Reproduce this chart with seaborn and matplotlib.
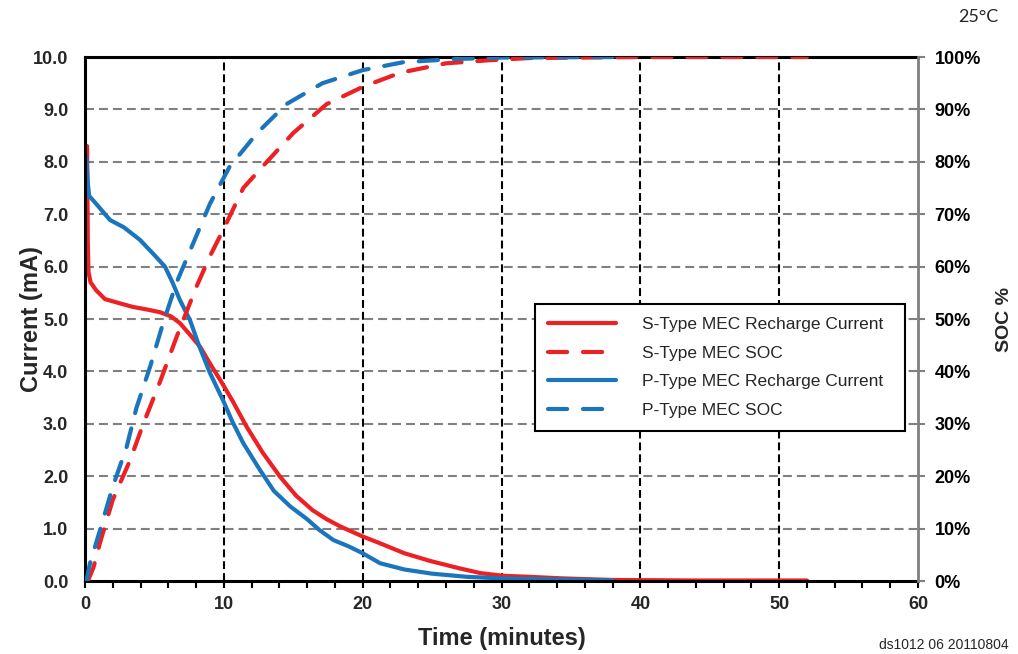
import matplotlib
matplotlib.use("Agg")
import matplotlib.pyplot as plt
from matplotlib.lines import Line2D
from matplotlib.ticker import MultipleLocator, FormatStrFormatter, FuncFormatter
import seaborn as sns

# S-Type MEC recharge current (minutes, mA)
s_cur_t = [0.15, 0.2, 0.25, 0.4, 0.8, 1.44, 2.5, 3.46, 4.5, 5.4, 6.2, 6.84, 7.5, 8.29, 9.0,
           9.73, 10.6, 11.65, 12.8, 14.05, 15.2, 16.4, 17.4, 18.4, 20.0, 21.25, 23.0, 24.9,
           27.0, 28.5, 30.1, 32.0, 34.4, 38.0, 44.0, 52.0]
s_cur = [8.3, 6.5, 5.9, 5.7, 5.55, 5.38, 5.3, 5.23, 5.18, 5.13, 5.05, 4.92, 4.72, 4.47, 4.15,
         3.84, 3.45, 2.94, 2.45, 1.99, 1.63, 1.35, 1.18, 1.04, 0.85, 0.72, 0.53, 0.38,
         0.24, 0.15, 0.10, 0.08, 0.05, 0.02, 0.01, 0.01]

# P-Type MEC recharge current (minutes, mA)
p_cur_t = [0.1, 0.2, 0.3, 0.8, 1.8, 2.8, 3.96, 5.0, 5.76, 6.3, 6.84, 7.56, 8.2, 9.0, 9.94,
           10.6, 11.4, 12.6, 13.6, 14.8, 16.0, 16.9, 17.9, 19.0, 20.0, 21.25, 23.0, 25.0,
           27.5, 30.0, 34.0, 38.0]
p_cur = [8.1, 7.6, 7.35, 7.2, 6.89, 6.75, 6.51, 6.22, 6.0, 5.7, 5.36, 4.98, 4.5, 3.97, 3.45,
         3.05, 2.63, 2.12, 1.72, 1.42, 1.18, 0.97, 0.78, 0.66, 0.53, 0.34, 0.22, 0.14,
         0.08, 0.05, 0.03, 0.01]

# S-Type MEC SOC (minutes, %)
s_soc_t = [0.2, 0.6, 1.08, 2.0, 3.24, 4.2, 5.4, 6.6, 8.0, 9.0, 9.95, 11.4, 13.1, 15.0, 17.4,
           20.0, 22.7, 26.0, 29.2, 32.0, 40.0, 52.0]
s_soc = [0, 2.5, 7.3, 15.5, 23, 30, 38, 46.6, 56, 62, 67, 75, 80, 85.5, 91,
         94.3, 97, 98.8, 99.4, 99.8, 100, 100]

# P-Type MEC SOC (minutes, %)
p_soc_t = [0.1, 0.36, 1.08, 2.0, 3.0, 3.7, 4.7, 5.6, 6.6, 7.56, 9.0, 10.0, 10.4, 12.4, 14.5,
           17.1, 20.0, 22.9, 26.5, 30.0, 38.0]
p_soc = [0, 3.4, 9.7, 18, 25.6, 33, 41, 49, 57, 63, 72, 77, 79, 85.5, 91,
         95, 97.5, 99, 99.6, 99.9, 100]

labels = ['S-Type MEC Recharge Current', 'S-Type MEC SOC',
          'P-Type MEC Recharge Current', 'P-Type MEC SOC']

RED = '#ED2024'
BLUE = '#1B75BC'
DASH = (0, (4.6, 3.8))

sns.set_style("white")
plt.rcParams['font.family'] = ['Liberation Sans', 'DejaVu Sans']
plt.rcParams['font.weight'] = 'bold'

fig = plt.figure(figsize=(10.18, 6.54), dpi=100)
ax = fig.add_axes([0.0835, 0.1116, 0.8183, 0.8012])
ax2 = ax.twinx()

# grid
for y in range(1, 10):
    ax.axhline(y, color='#808080', lw=1.5, ls=(0, (4.3, 2.4)), zorder=0.5)
for x in range(10, 60, 10):
    ax.axvline(x, color='black', lw=1.5, ls=(0, (3.8, 1.9)), zorder=0.6)

# current curves
sns.lineplot(x=s_cur_t, y=s_cur, ax=ax, color=RED, lw=3, estimator=None, sort=False,
             solid_capstyle='round')
sns.lineplot(x=p_cur_t, y=p_cur, ax=ax, color=BLUE, lw=3, estimator=None, sort=False,
             solid_capstyle='round')

# SOC curves
sns.lineplot(x=s_soc_t, y=s_soc, ax=ax2, color=RED, lw=3, estimator=None, sort=False,
             linestyle=DASH, dash_capstyle='round')
sns.lineplot(x=p_soc_t, y=p_soc, ax=ax2, color=BLUE, lw=3, estimator=None, sort=False,
             linestyle=DASH, dash_capstyle='round')

ax.set_xlim(0, 60)
ax.set_ylim(0, 10)
ax2.set_ylim(0, 100)

ax.xaxis.set_major_locator(MultipleLocator(10))
ax.xaxis.set_minor_locator(MultipleLocator(2))
ax.yaxis.set_major_locator(MultipleLocator(1))
ax.yaxis.set_major_formatter(FormatStrFormatter('%.1f'))
ax2.yaxis.set_major_locator(MultipleLocator(10))
ax2.yaxis.set_major_formatter(FuncFormatter(lambda v, p: f'{int(round(v))}%'))

ax.tick_params(axis='x', which='both', direction='out', length=5, width=1.5,
               color='black', labelsize=13, pad=6, bottom=True)
ax.tick_params(axis='y', length=0, labelsize=13, pad=12, left=True)
ax2.tick_params(axis='y', direction='out', length=5, width=1.5, color='#808080',
                labelcolor='black', labelsize=13, pad=7, right=True)

for side in ['left', 'bottom', 'top']:
    ax.spines[side].set_color('black')
    ax.spines[side].set_linewidth(2.2)
ax.spines['right'].set_visible(False)
for side in ['left', 'bottom', 'top']:
    ax2.spines[side].set_visible(False)
ax2.spines['right'].set_color('#808080')
ax2.spines['right'].set_linewidth(2)

ax.set_xlabel('Time (minutes)', fontsize=17, fontweight='bold')
ax.set_ylabel('Current (mA)', fontsize=17, fontweight='bold')
ax2.set_ylabel('SOC %', fontsize=14, fontweight='bold')
ax.xaxis.set_label_coords(0.5, -0.088)
ax.yaxis.set_label_coords(-0.051, 0.5)
ax2.yaxis.set_label_coords(1.094, 0.5)

handles = [
    Line2D([], [], color=RED, lw=3, solid_capstyle='round'),
    Line2D([], [], color=RED, lw=3, linestyle=DASH, dash_capstyle='round'),
    Line2D([], [], color=BLUE, lw=3, solid_capstyle='round'),
    Line2D([], [], color=BLUE, lw=3, linestyle=DASH, dash_capstyle='round'),
]
leg = ax2.legend(handles, labels, loc='upper left',
                 bbox_to_anchor=(0.540, 0.288, 0.444, 0.241), mode='expand',
                 borderaxespad=0, fancybox=False, frameon=True, framealpha=1,
                 handlelength=3.9, handletextpad=1.5, labelspacing=0.78, borderpad=0.75,
                 prop={'weight': 'normal', 'size': 12.5})
leg.get_frame().set_edgecolor('black')
leg.get_frame().set_linewidth(1.5)

fig.text(0.961, 0.974, '25°C', ha='center', va='center', fontsize=13,
         fontweight='normal', family=['Lato', 'DejaVu Sans'])
fig.text(0.927, 0.013, 'ds1012 06 20110804', ha='center', va='center', fontsize=10,
         fontweight='normal')

fig.savefig('out.png', dpi=100)
